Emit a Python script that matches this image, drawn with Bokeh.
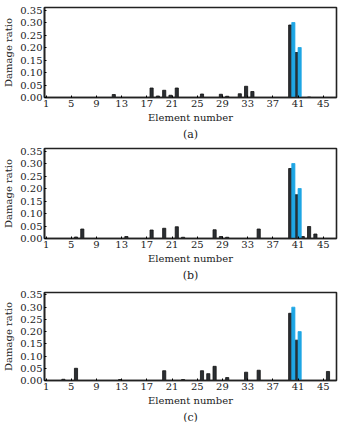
from bokeh.plotting import figure
from bokeh.layouts import column
from bokeh.models import ColumnDataSource, Range1d, FixedTicker, Title, NumeralTickFormatter
from bokeh.transform import dodge
from bokeh.embed import file_html
from bokeh.resources import INLINE

# ---- data ----
x_ticks = [1, 5, 9, 13, 17, 21, 25, 29, 33, 37, 41, 45]
y_ticks = [0.0, 0.05, 0.10, 0.15, 0.20, 0.25, 0.30, 0.35]

actual_elements = [40, 41]
actual_damage = [0.30, 0.20]

a_elements = [12, 18, 19, 20, 21, 22, 26, 29, 30, 32, 33, 34, 40, 41, 43]
a_identified = [0.012, 0.038, 0.006, 0.029, 0.009, 0.038, 0.014, 0.013, 0.005,
                0.015, 0.045, 0.024, 0.290, 0.180, 0.002]

b_elements = [6, 7, 14, 18, 20, 22, 23, 28, 29, 30, 35, 40, 41, 42, 43, 44]
b_identified = [0.006, 0.038, 0.008, 0.034, 0.041, 0.047, 0.005, 0.035, 0.008,
                0.005, 0.038, 0.280, 0.175, 0.008, 0.048, 0.018]

c_elements = [4, 6, 13, 20, 23, 26, 27, 28, 30, 33, 35, 40, 41, 46]
c_identified = [0.005, 0.050, 0.004, 0.040, 0.004, 0.040, 0.028, 0.058, 0.012,
                0.034, 0.042, 0.275, 0.165, 0.037]

panels = [("(a)", a_elements, a_identified),
          ("(b)", b_elements, b_identified),
          ("(c)", c_elements, c_identified)]

FONT = "DejaVu Serif"
BLUE = "#1ea6e4"
DARK = "#2b2f33"

layouts = [dict(top=7, frame=90, bottom=44),
           dict(top=7, frame=90, bottom=45),
           dict(top=9, frame=88, bottom=42)]

figs = []
for (cap, els, vals), lay in zip(panels, layouts):
    p = figure(frame_width=292, frame_height=lay["frame"],
               min_border_left=42, min_border_right=7,
               min_border_top=lay["top"], min_border_bottom=lay["bottom"],
               x_range=Range1d(0.75, 47.1), y_range=Range1d(0, 0.36),
               output_backend="svg", toolbar_location=None,
               background_fill_color="white", border_fill_color="white")
    src_id = ColumnDataSource(dict(element=els, value=vals))
    src_ac = ColumnDataSource(dict(element=actual_elements, value=actual_damage))
    p.vbar(x=dodge("element", -0.25, range=p.x_range), top="value", width=0.5,
           source=src_id, fill_color=DARK, line_color="#111111", line_width=0.8)
    p.vbar(x=dodge("element", 0.25, range=p.x_range), top="value", width=0.5,
           source=src_ac, fill_color=BLUE, line_color=BLUE, line_width=0.8)

    p.xgrid.visible = False
    p.ygrid.visible = False
    p.outline_line_color = "#222222"
    p.outline_line_width = 1.6
    p.outline_line_alpha = 1

    p.xaxis.ticker = FixedTicker(ticks=x_ticks)
    p.yaxis.ticker = FixedTicker(ticks=y_ticks)
    p.yaxis.formatter = NumeralTickFormatter(format="0.00")
    for ax in (p.xaxis, p.yaxis):
        ax.major_tick_in = 2
        ax.major_tick_out = 0
        ax.minor_tick_line_color = None
        ax.axis_line_color = "#222222"
        ax.axis_line_width = 1.6
        ax.major_label_text_font = FONT
        ax.major_label_text_font_size = "10px"
        ax.major_label_text_color = "#222222"
        ax.axis_label_text_font = FONT
        ax.axis_label_text_font_size = "10px"
        ax.axis_label_text_font_style = "normal"
        ax.axis_label_text_color = "#222222"
    p.xaxis.axis_label = "Element number"
    p.yaxis.axis_label = "Damage ratio"
    p.xaxis.major_label_standoff = 2
    p.yaxis.major_label_standoff = 2
    p.xaxis.axis_label_standoff = 2
    p.yaxis.axis_label_standoff = 3

    t = Title(text=cap, align="center", text_font=FONT, text_font_size="11px",
              text_font_style="normal", text_color="#222222", standoff=0)
    p.add_layout(t, "below")
    figs.append(p)

layout = column(*figs, spacing=0)
open("out.html", "w").write(file_html(layout, INLINE))
